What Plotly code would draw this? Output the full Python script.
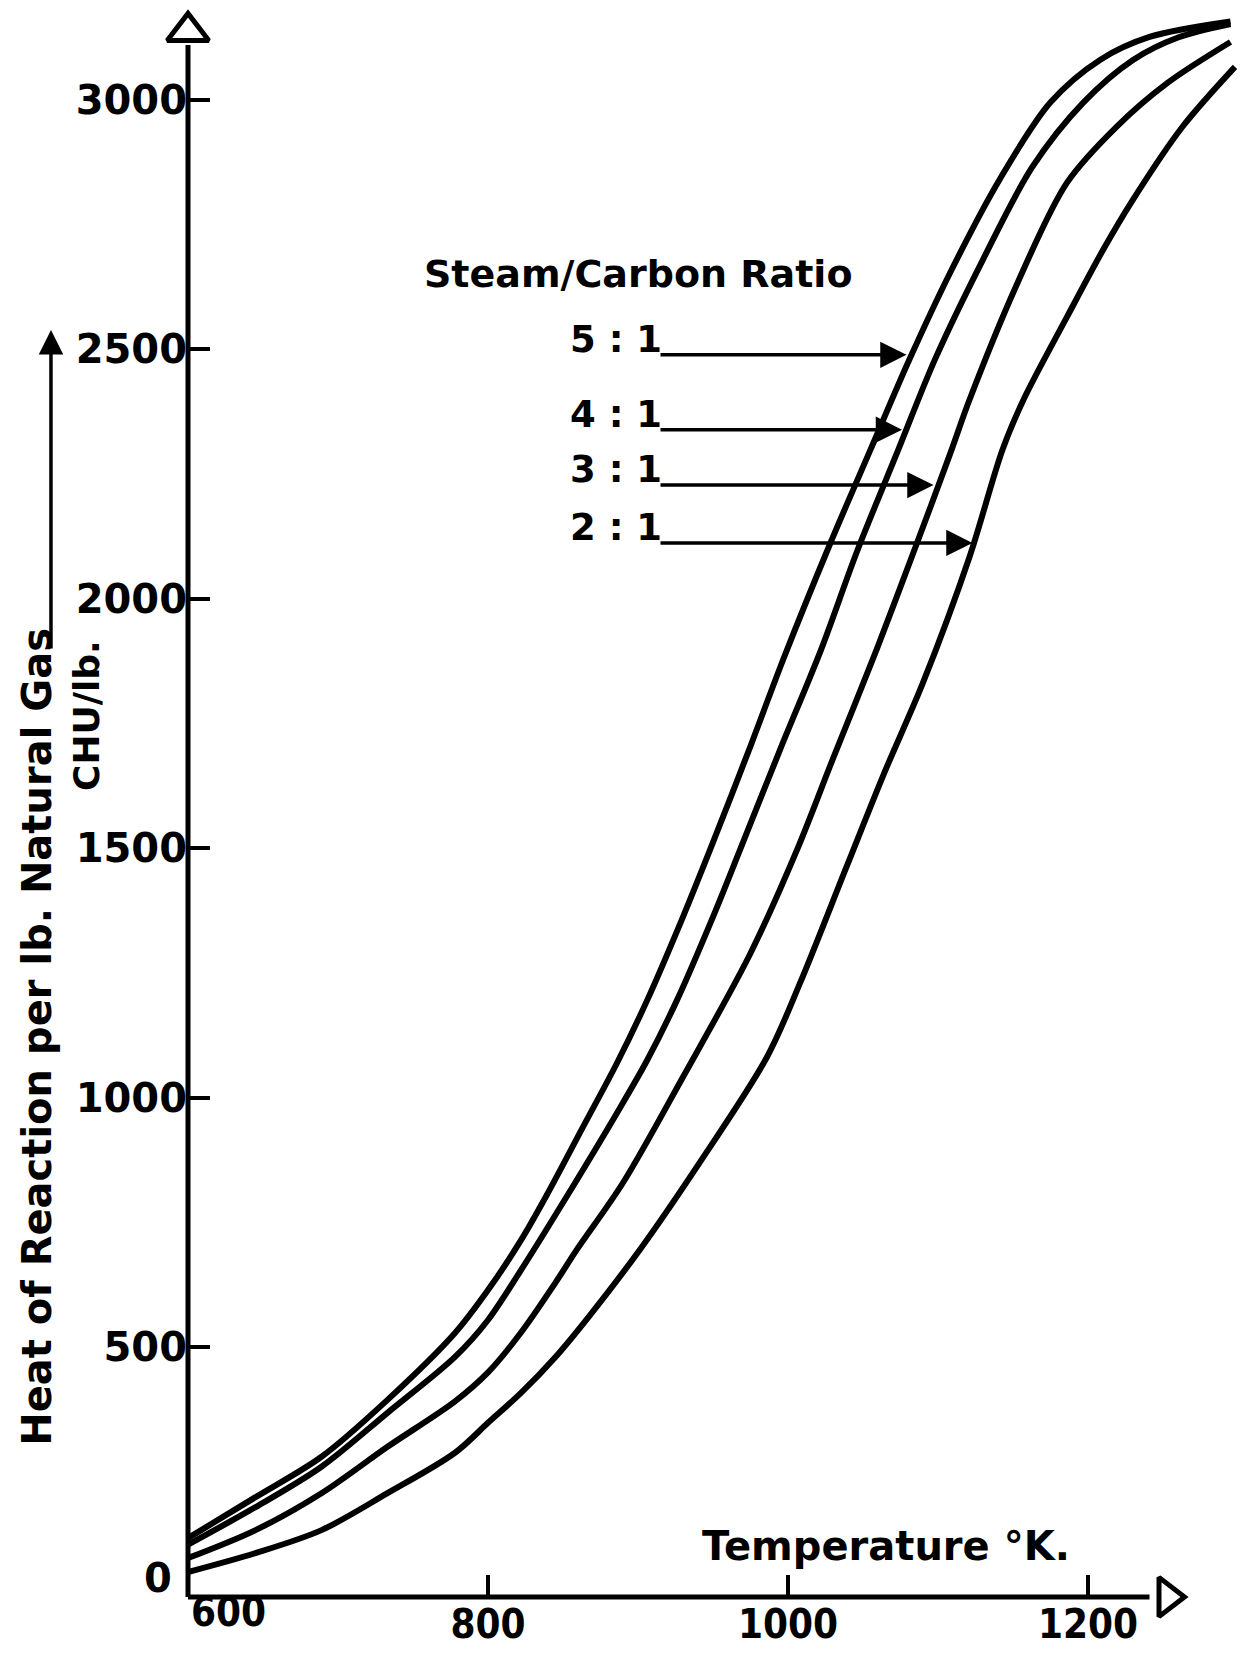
import plotly.graph_objects as go

# ---------------- data ----------------
temp_5 = [600, 645, 689, 733, 778, 800, 822, 840, 863, 886, 906, 930, 948, 975, 997, 1028, 1055, 1081, 1108, 1141, 1175, 1208, 1241, 1295]
heat_5 = [118, 200, 281, 395, 529, 615, 715, 810, 940, 1070, 1195, 1363, 1497, 1705, 1880, 2110, 2299, 2480, 2653, 2840, 2995, 3080, 3126, 3157]

temp_4 = [600, 645, 689, 733, 778, 800, 822, 853, 886, 906, 926, 950, 968, 995, 1022, 1046, 1073, 1098, 1130, 1163, 1197, 1230, 1260, 1295]
heat_4 = [105, 180, 261, 369, 481, 555, 655, 805, 970, 1075, 1196, 1363, 1497, 1700, 1898, 2095, 2295, 2480, 2680, 2866, 2995, 3080, 3125, 3152]

temp_3 = [600, 645, 689, 733, 778, 800, 822, 845, 859, 890, 930, 975, 1006, 1030, 1059, 1086, 1108, 1121, 1153, 1186, 1219, 1253, 1295]
heat_3 = [78, 134, 208, 301, 392, 450, 530, 630, 695, 830, 1042, 1290, 1497, 1680, 1898, 2112, 2290, 2399, 2633, 2834, 2946, 3034, 3116]

temp_2 = [600, 645, 689, 733, 778, 800, 822, 845, 867, 901, 941, 986, 1008, 1039, 1064, 1090, 1121, 1143, 1157, 1186, 1210, 1230, 1263, 1298]
heat_2 = [50, 88, 134, 208, 289, 349, 409, 481, 561, 695, 870, 1082, 1230, 1463, 1650, 1832, 2084, 2299, 2399, 2565, 2699, 2800, 2946, 3066]

ratio_labels = ["5 : 1", "4 : 1", "3 : 1", "2 : 1"]
pointer_level = [2489, 2339, 2228, 2112]
pointer_tip = [1079, 1076, 1097, 1123]
pointer_start = 914

x_tickvals = [800, 1000, 1200]
x_ticktext = ["800", "1000", "1200"]
y_tickvals = [500, 1000, 1500, 2000, 2500, 3000]
y_ticktext = ["500", "1000", "1500", "2000", "2500", "3000"]

x_range = [600, 1300]
y_range = [0, 3180]

# ---------------- figure ----------------
BLACK = "#000000"
ROUND = "DejaVu Sans, Verdana, sans-serif"
NARROW = "DejaVu Sans Condensed, Liberation Sans Narrow, Arial Narrow, sans-serif"

fig = go.Figure()
for tx, hv, name in [(temp_5, heat_5, "5:1"), (temp_4, heat_4, "4:1"),
                     (temp_3, heat_3, "3:1"), (temp_2, heat_2, "2:1")]:
    fig.add_trace(go.Scatter(x=tx, y=hv, mode="lines", name=name,
                             line=dict(color=BLACK, width=6, shape="spline", smoothing=0.9),
                             showlegend=False, hoverinfo="skip"))

# axis arrow heads
fig.add_trace(go.Scatter(x=[x_range[0]], y=[3137], mode="markers", showlegend=False, cliponaxis=False,
                         marker=dict(symbol="triangle-up", size=36, color="white",
                                     line=dict(color=BLACK, width=5)), hoverinfo="skip"))
fig.add_trace(go.Scatter(x=[1253], y=[0], mode="markers", showlegend=False, cliponaxis=False,
                         marker=dict(symbol="triangle-right", size=34, color="white",
                                     line=dict(color=BLACK, width=5)), hoverinfo="skip"))

x_span = x_range[1] - x_range[0]
y_span = y_range[1] - y_range[0]
shapes = [
    dict(type="line", xref="paper", yref="paper", x0=0, x1=(1241 - x_range[0]) / x_span, y0=0, y1=0,
         line=dict(color=BLACK, width=5), layer="below"),
    dict(type="line", xref="paper", yref="paper", x0=0, x1=0, y0=0, y1=(3110 - y_range[0]) / y_span,
         line=dict(color=BLACK, width=5), layer="below"),
]

def bold(family, size):
    return dict(family=family, size=size, color=BLACK, weight="bold")

annotations = []
# legend title
annotations.append(dict(x=900, y=2651, xref="x", yref="y", text="Steam/Carbon Ratio", showarrow=False,
                        font=bold(ROUND, 38), xanchor="center", yanchor="middle"))
for lab, lev, tip in zip(ratio_labels, pointer_level, pointer_tip):
    annotations.append(dict(x=tip, y=lev, xref="x", yref="y", ax=pointer_start, ay=lev,
                            axref="x", ayref="y", text="", showarrow=True, arrowhead=2,
                            arrowsize=1.5, arrowwidth=3.5, arrowcolor=BLACK, standoff=0))
    annotations.append(dict(x=pointer_start + 3, y=lev, xref="x", yref="y", text=lab, showarrow=False,
                            font=bold(ROUND, 37), xanchor="right",
                            yanchor="bottom", yshift=-8))
# x axis title
annotations.append(dict(x=1065, y=103, xref="x", yref="y", text="Temperature °K.", showarrow=False,
                        font=bold(ROUND, 40), xanchor="center", yanchor="middle"))
# origin labels
annotations.append(dict(x=-0.013, y=38, xref="paper", yref="y", text="0", showarrow=False,
                        font=bold(ROUND, 40), xanchor="right", yanchor="middle"))
annotations.append(dict(x=627, y=-0.0095, xref="x", yref="paper", text="600", showarrow=False,
                        font=bold(NARROW, 40), xanchor="center", yanchor="middle"))
# y axis title
annotations.append(dict(x=-0.1438, y=0.353, xref="paper", yref="paper",
                        text="Heat of Reaction per lb. Natural Gas", textangle=-90, showarrow=False,
                        font=bold(ROUND, 40), xanchor="center", yanchor="middle"))
annotations.append(dict(x=-0.0962, y=0.5558, xref="paper", yref="paper", text="CHU/lb.", textangle=-90,
                        showarrow=False, font=bold(ROUND, 36),
                        xanchor="center", yanchor="middle"))
annotations.append(dict(x=-0.1305, y=0.7984, xref="paper", yref="paper", ax=0, ay=320, text="",
                        showarrow=True, arrowhead=2, arrowsize=1.4, arrowwidth=3.5, arrowcolor=BLACK,
                        standoff=0))

fig.update_layout(
    width=1246, height=1655,
    margin=dict(l=188, r=8, t=10, b=58),
    paper_bgcolor="white", plot_bgcolor="white",
    shapes=shapes, annotations=annotations,
    xaxis=dict(range=x_range, showgrid=False, zeroline=False, showline=False,
               ticks="inside", ticklen=22, tickwidth=4, tickcolor=BLACK,
               tickvals=x_tickvals, ticktext=x_ticktext, ticklabelstandoff=0,
               tickfont=bold(NARROW, 40)),
    yaxis=dict(range=y_range, showgrid=False, zeroline=False, showline=False,
               ticks="inside", ticklen=22, tickwidth=4, tickcolor=BLACK,
               tickvals=y_tickvals, ticktext=y_ticktext,
               tickfont=bold(ROUND, 40)),
)

fig.write_html("out.html")
